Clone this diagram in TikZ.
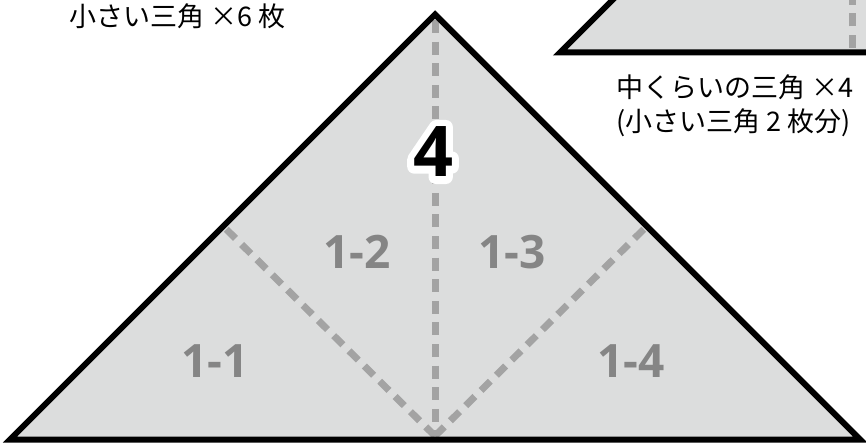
\documentclass[tikz,border=0pt]{standalone}
\usepackage{fontspec}
\setmainfont{Open Sans}
\newfontfamily\jpfont{Noto Sans CJK JP}
\usepackage{tikz}
\usetikzlibrary{positioning}

\definecolor{paperfill}{HTML}{DCDDDD}
\definecolor{foldgray}{HTML}{A3A3A3}
\definecolor{labelgray}{HTML}{858585}

% white rim round a glyph: stroke it in white, then fill it on top
\newcommand{\rimmed}[1]{\special{pdf:literal direct 1 1 1 RG 7 w 1 j 1 Tr}\rlap{#1}\special{pdf:literal direct 0 Tr}#1}

\tikzset{
  foldline/.style={foldgray, line width=3.5pt, dash pattern=on 6.5pt off 4.3pt},
  edgeline/.style={black, line width=3pt, line join=miter},
  piecelabel/.style={labelgray, font=\fontsize{23}{23}\selectfont\bfseries, inner sep=0pt},
  biglabel/.style={black, font=\fontsize{35}{35}\selectfont\bfseries, inner sep=0pt},
  notetext/.style={black, font=\jpfont\fontsize{13.5}{17}\selectfont, inner sep=0pt, anchor=west}
}

\begin{document}
\begin{tikzpicture}[x=0.5pt, y=-0.5pt]
		% 1. Frame of the picture (also cuts the shapes at the border)
		\clip (0,0) rectangle (866,443);

		% 2. Corner points of the large triangle
		\coordinate (apex) at (435,14.5);
		\coordinate (left) at (10,439.5);
		\coordinate (right) at (860,439.5);
		\coordinate (top) at (435,20);
		\coordinate (mid) at (435,436);
		\coordinate (lmid) at (226,229);
		\coordinate (rmid) at (644,229);

		% 3. Medium triangle (only its lower left part is seen)
		\coordinate (mleft) at (560,52.5);
		\coordinate (mapex) at (852.5,-240);
		\coordinate (mright) at (1145,52.5);
		\coordinate (mbot) at (852.5,48);
		\fill[paperfill] (mleft) -- (mapex) -- (mright) -- cycle;
		\draw[foldline] (mbot) -- (mapex);
		\draw[edgeline] (mleft) -- (mapex) -- (mright) -- cycle;

		% 4. Large triangle with its fold lines
		\fill[paperfill] (left) -- (apex) -- (right) -- cycle;
		\draw[foldline] (top) -- (mid);
		\draw[foldline] (mid) -- (lmid);
		\draw[foldline] (mid) -- (rmid);
		\draw[edgeline] (left) -- (apex) -- (right) -- cycle;

		% 5. Names of the small pieces
		\node[piecelabel] (p11) at (215,361) {1-1};
		\node[piecelabel] (p12) at (357,252) {1-2};
		\node[piecelabel] (p13) at (512,252) {1-3};
		\node[piecelabel] (p14) at (631,361) {1-4};

		% 6. Big "4" with a white rim
		\node[biglabel] (four) at (433,152) {\rimmed{4}};

		% 7. Notes
		\node[notetext] (smallnote) at (69,16.5) {小さい三角 ×6 枚};
		\node[notetext] (mednote) at (616,87) {中くらいの三角 ×4};
		\node[notetext, below=18pt of mednote.west, anchor=west] (mednote2) {(小さい三角 2 枚分)};
	\end{tikzpicture}
\end{document}
